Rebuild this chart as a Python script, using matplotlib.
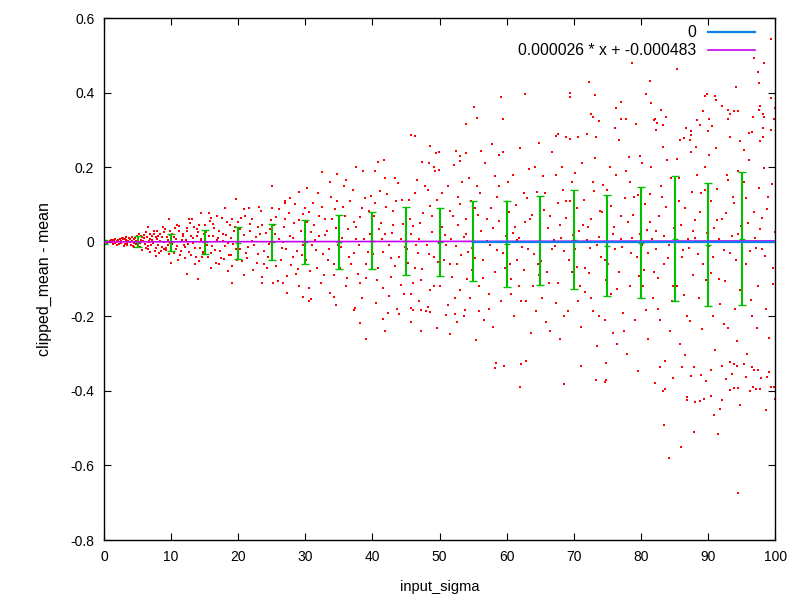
import matplotlib
matplotlib.use("Agg")
import matplotlib.pyplot as plt

plt.rcParams['font.family'] = ['Liberation Sans', 'DejaVu Sans']
plt.rcParams['axes.unicode_minus'] = False

# scatter of clipped_mean - mean
cloud_left = [
    (0.3, 0.001), (0.6, -0.002), (0.9, 0.003), (1.2, -0.001), (1.4, 0.004), (1.7, -0.004),
    (1.9, 0.002), (2.2, -0.005), (2.4, 0.006), (2.6, -0.003), (2.9, 0.008), (3.1, -0.007),
    (3.3, 0.004), (3.5, -0.009), (3.7, 0.010), (3.9, -0.002), (4.1, 0.012), (4.3, -0.011),
    (4.5, 0.006), (4.7, -0.006), (4.9, 0.014), (0.8, 0.000), (1.5, 0.001), (2.0, -0.008),
    (2.8, 0.011), (3.6, 0.002), (4.4, -0.014), (4.8, 0.003), (1.1, 0.005), (3.0, -0.012),
    (5.1, 0.010), (5.3, -0.015), (5.5, 0.004), (5.7, -0.022), (5.9, 0.018), (6.1, -0.006),
    (6.3, 0.025), (6.5, -0.012), (6.7, 0.002), (6.9, -0.028), (7.1, 0.015), (7.3, -0.003),
    (7.5, 0.030), (7.7, -0.018), (7.9, 0.008), (8.1, -0.010), (8.3, 0.022), (8.5, -0.025),
    (8.7, 0.012), (8.9, -0.001), (9.1, 0.035), (9.3, -0.016), (9.5, 0.005), (9.7, -0.032),
    (9.9, 0.019), (5.6, 0.013), (6.6, -0.019), (7.4, 0.021), (8.2, -0.030), (9.0, 0.027),
    (9.6, -0.008), (8.8, 0.040), (7.8, -0.038), (6.0, 0.009),
    (10.1, 0.020), (10.4, -0.031), (10.7, 0.007), (10.9, -0.012), (11.2, 0.042), (11.5, -0.024),
    (11.7, 0.015), (12.0, -0.045), (12.3, 0.028), (12.5, -0.005), (12.8, 0.050), (13.0, -0.036),
    (13.3, 0.011), (13.6, -0.018), (13.8, 0.035), (14.1, -0.052), (14.4, 0.003), (14.7, -0.028),
    (14.9, 0.022), (10.6, 0.038), (11.9, -0.009), (12.6, 0.061), (13.5, -0.060), (14.2, 0.045),
    (11.0, -0.048), (13.9, 0.016), (12.2, 0.004), (14.6, -0.040),
    (15.2, 0.025), (15.5, -0.040), (15.8, 0.055), (16.1, -0.012), (16.4, 0.036), (16.7, -0.058),
    (17.0, 0.009), (17.3, -0.025), (17.6, 0.064), (17.9, -0.047), (18.2, 0.018), (18.5, -0.004),
    (18.8, 0.044), (19.1, -0.066), (19.4, 0.030), (19.7, -0.020), (15.9, -0.070), (16.9, 0.070),
    (17.8, 0.002), (18.9, -0.035), (19.9, 0.052), (16.3, 0.015), (18.4, -0.078),
    (20.2, 0.035), (20.6, -0.052), (21.0, 0.070), (21.4, -0.015), (21.8, 0.048), (22.2, -0.075),
    (22.6, 0.012), (23.0, -0.034), (23.4, 0.082), (23.8, -0.060), (24.2, 0.024), (24.6, -0.006),
    (24.9, 0.058), (20.8, -0.088), (21.6, 0.090), (22.9, 0.040), (23.6, -0.095), (24.4, -0.040),
    (22.0, 0.003), (20.4, 0.064), (21.2, -0.030),
]

cloud_mid = [
    (25.3, 0.045), (25.7, -0.066), (26.1, 0.088), (26.5, -0.018), (26.9, 0.060), (27.3, -0.092),
    (27.7, 0.015), (28.1, -0.042), (28.5, 0.100), (28.9, -0.074), (29.3, 0.030), (29.7, -0.008),
    (25.9, -0.105), (27.0, 0.110), (28.3, 0.050), (29.0, -0.118), (29.6, 0.075), (26.7, 0.000),
    (28.7, -0.026), (25.5, 0.020),
    (30.2, 0.052), (30.7, -0.078), (31.1, 0.104), (31.6, -0.022), (32.0, 0.070), (32.4, -0.110),
    (32.9, 0.018), (33.3, -0.050), (33.8, 0.120), (34.2, -0.088), (34.6, 0.036), (34.9, -0.010),
    (30.5, -0.125), (31.9, 0.130), (33.0, 0.062), (33.6, -0.138), (34.4, 0.088), (31.4, 0.004),
    (32.7, -0.032), (30.9, 0.026),
    (35.3, -0.015), (35.6, 0.094), (36.0, -0.120), (36.3, 0.034), (36.8, -0.060), (37.1, 0.138),
    (37.5, 0.006), (37.8, -0.086), (38.2, 0.066), (38.5, -0.150), (38.9, 0.118), (39.3, -0.028),
    (39.7, 0.020), (35.8, 0.150), (36.5, -0.040), (37.3, 0.052), (38.0, -0.010), (39.0, -0.098),
    (39.5, 0.082), (35.1, -0.070),
    (40.2, 0.068), (40.7, -0.102), (41.1, 0.136), (41.6, -0.028), (42.0, 0.092), (42.4, -0.145),
    (42.9, 0.024), (43.3, -0.066), (43.8, 0.158), (44.2, -0.115), (44.6, 0.048), (44.9, -0.014),
    (40.5, -0.165), (41.9, 0.170), (43.0, 0.082), (43.6, -0.180), (44.4, 0.112), (41.4, 0.006),
    (42.7, -0.043), (40.9, 0.034),
    (45.1, -0.020), (45.4, 0.112), (45.8, -0.140), (46.0, 0.041), (46.3, -0.071), (46.7, 0.166),
    (46.9, 0.008), (47.2, -0.102), (47.6, 0.078), (47.9, -0.185), (48.2, 0.140), (48.4, -0.034),
    (48.8, 0.025), (49.1, -0.118), (49.3, 0.190), (49.7, -0.055), (45.6, 0.060), (47.0, -0.160),
    (48.6, 0.095), (49.9, -0.004), (46.5, -0.010),
    (50.3, 0.130), (50.6, -0.050), (50.8, 0.018), (51.2, -0.170), (51.5, 0.082), (51.9, -0.095),
    (52.1, 0.205), (52.4, -0.012), (52.8, 0.045), (53.1, -0.130), (53.4, 0.160), (53.7, -0.200),
    (54.0, 0.060), (54.3, -0.028), (54.7, 0.110), (54.9, -0.075), (50.1, -0.120), (51.7, 0.006),
    (53.0, 0.100), (54.5, -0.150), (52.6, -0.060), (53.9, 0.022),
    (55.2, -0.045), (55.5, 0.150), (55.9, -0.185), (56.2, 0.030), (56.4, -0.098), (56.8, 0.210),
    (57.1, 0.002), (57.3, -0.140), (57.7, 0.090), (58.0, -0.230), (58.3, 0.175), (58.6, -0.022),
    (58.9, 0.055), (59.2, -0.160), (59.5, 0.240), (59.8, -0.070), (55.7, 0.072), (57.5, -0.010),
    (58.5, 0.120), (59.9, 0.015), (56.6, -0.210), (57.9, 0.038),
]

cloud_right = [
    (60.2, 0.160), (60.5, -0.060), (60.9, 0.024), (61.1, -0.200), (61.4, 0.098), (61.8, -0.118),
    (62.0, 0.250), (62.3, -0.015), (62.7, 0.052), (62.9, -0.160), (63.3, 0.195), (63.6, -0.245),
    (63.8, 0.072), (64.1, -0.034), (64.5, 0.132), (64.8, -0.090), (60.7, -0.140), (61.6, 0.004),
    (63.0, 0.118), (64.3, -0.185), (62.5, -0.075), (64.9, 0.030), (61.3, 0.040),
    (65.1, -0.052), (65.4, 0.175), (65.8, -0.215), (66.1, 0.036), (66.3, -0.112), (66.7, 0.240),
    (67.0, 0.004), (67.4, -0.165), (67.6, 0.104), (67.9, -0.262), (68.2, 0.200), (68.5, -0.026),
    (68.8, 0.064), (69.1, -0.185), (69.4, 0.275), (69.7, -0.080), (65.6, 0.085), (67.2, -0.012),
    (68.4, 0.140), (69.9, 0.018), (66.5, -0.240), (68.0, 0.045), (69.5, 0.110),
    (70.2, 0.185), (70.5, -0.068), (70.8, 0.028), (71.1, -0.230), (71.5, 0.112), (71.7, -0.135),
    (72.0, 0.290), (72.4, -0.018), (72.6, 0.060), (72.9, -0.185), (73.2, 0.225), (73.5, -0.280),
    (73.9, 0.082), (74.1, -0.040), (74.4, 0.152), (74.8, -0.102), (70.6, -0.160), (71.9, 0.005),
    (73.0, 0.135), (74.6, -0.210), (72.2, -0.085), (74.9, 0.034), (71.3, 0.046), (73.7, 0.012),
    (75.1, -0.060), (75.4, 0.200), (75.8, -0.245), (76.0, 0.040), (76.4, -0.128), (76.7, 0.272),
    (77.0, 0.006), (77.3, -0.190), (77.6, 0.118), (77.9, -0.300), (78.2, 0.228), (78.5, -0.030),
    (78.8, 0.072), (79.1, -0.210), (79.3, 0.315), (79.7, -0.092), (75.6, 0.096), (77.2, -0.014),
    (78.4, 0.160), (79.9, 0.020), (76.5, -0.275), (78.0, 0.052), (79.5, 0.125), (76.2, -0.020),
    (80.2, 0.210), (80.5, -0.076), (80.9, 0.032), (81.1, -0.262), (81.4, 0.128), (81.8, -0.152),
    (82.1, 0.330), (82.3, -0.020), (82.7, 0.068), (82.9, -0.210), (83.3, 0.255), (83.6, -0.320),
    (83.8, 0.094), (84.1, -0.045), (84.5, 0.172), (84.8, -0.118), (80.7, -0.182), (81.6, 0.006),
    (83.0, 0.150), (84.3, -0.240), (82.5, -0.096), (84.9, 0.038), (81.3, 0.052), (83.5, 0.014),
    (80.1, -0.010),
    (85.1, -0.068), (85.4, 0.222), (85.8, -0.275), (86.0, 0.046), (86.4, -0.142), (86.7, 0.305),
    (87.0, 0.008), (87.3, -0.212), (87.6, 0.132), (87.9, -0.335), (88.2, 0.255), (88.5, -0.034),
    (88.8, 0.080), (89.1, -0.235), (89.3, 0.350), (89.7, -0.104), (85.6, 0.108), (87.2, -0.016),
    (88.4, 0.180), (89.9, 0.024), (86.5, -0.305), (88.0, 0.058), (89.5, 0.140), (86.2, -0.022),
    (87.8, 0.030),
    (90.2, 0.232), (90.5, -0.084), (90.9, 0.036), (91.1, -0.290), (91.4, 0.142), (91.8, -0.168),
    (92.1, 0.365), (92.3, -0.022), (92.7, 0.076), (92.9, -0.232), (93.3, 0.282), (93.6, -0.355),
    (93.8, 0.104), (94.1, -0.050), (94.5, 0.190), (94.8, -0.130), (90.7, -0.200), (91.6, 0.008),
    (93.0, 0.165), (94.3, -0.265), (92.5, -0.106), (94.9, 0.042), (91.3, 0.058), (93.5, 0.016),
    (90.1, -0.012),
    (95.1, -0.074), (95.4, 0.245), (95.8, -0.300), (96.0, 0.050), (96.4, -0.156), (96.7, 0.335),
    (97.0, 0.010), (97.3, -0.232), (97.6, 0.145), (97.9, -0.365), (98.2, 0.280), (98.5, -0.038),
    (98.8, 0.088), (99.1, -0.258), (99.3, 0.385), (99.7, -0.114), (95.6, 0.118), (97.2, -0.018),
    (98.4, 0.198), (99.9, 0.026), (96.5, -0.335), (98.0, 0.064), (99.5, 0.155), (96.2, -0.024),
    (97.8, 0.034),
]

# denser inner band of the cloud
cloud_core = [
    (0.5, -0.003), (1.0, 0.002), (1.3, -0.006), (1.6, 0.006), (1.8, -0.002), (2.1, 0.004),
    (2.3, -0.007), (2.5, 0.001), (2.7, 0.009), (3.2, 0.006), (3.4, -0.004), (3.8, 0.008),
    (4.0, -0.010), (4.2, 0.001), (4.6, 0.010), (5.0, -0.008), (5.2, 0.020), (5.4, -0.004),
    (5.8, 0.002), (6.2, -0.016), (6.4, 0.012), (6.8, 0.020), (7.0, -0.010), (7.2, 0.004),
    (7.6, -0.024), (8.0, 0.016), (8.4, 0.002), (8.6, -0.014), (9.2, -0.022), (9.4, 0.012),
    (9.8, -0.004), (5.5, 0.016), (6.7, -0.002), (7.9, 0.028), (8.9, -0.020), (9.9, 0.030),
    (3.3, 0.012), (4.5, -0.003), (6.9, 0.007), (7.7, 0.013),
    (10.2, -0.006), (10.5, 0.012), (10.8, -0.020), (11.1, 0.028), (11.3, -0.036), (11.6, 0.004),
    (11.8, 0.022), (12.1, -0.014), (12.4, 0.036), (12.7, -0.028), (12.9, 0.014), (13.2, -0.004),
    (13.4, 0.040), (13.7, -0.042), (14.0, 0.026), (14.3, -0.016), (14.5, 0.008), (14.8, -0.034),
    (15.0, 0.044), (15.3, -0.008), (15.6, 0.016), (15.9, -0.030), (16.2, 0.048), (16.5, -0.022),
    (16.8, 0.004), (17.1, 0.030), (17.4, -0.044), (17.7, 0.020), (18.0, -0.012), (18.3, 0.052),
    (18.6, -0.036), (18.9, 0.010), (19.2, -0.006), (19.5, 0.040), (19.8, -0.050), (10.9, 0.046),
    (13.1, 0.060), (16.0, 0.064), (17.2, -0.060), (19.0, 0.060),
    (20.3, -0.020), (20.9, 0.018), (21.3, -0.045), (21.7, 0.028), (22.1, 0.060), (22.4, -0.010),
    (22.8, -0.058), (23.2, 0.020), (23.5, 0.046), (23.9, -0.024), (24.3, -0.070), (24.7, 0.034),
    (25.1, -0.030), (25.6, 0.066), (26.0, 0.008), (26.3, -0.050), (26.8, 0.040), (27.1, -0.020),
    (27.5, 0.076), (27.9, -0.062), (28.2, 0.010), (28.6, -0.086), (29.1, 0.058), (29.5, -0.036),
    (29.9, 0.090), (30.1, -0.048), (30.6, 0.080), (31.0, -0.010), (31.3, 0.044), (31.7, -0.070),
    (32.1, 0.016), (32.5, 0.094), (32.8, -0.090), (33.2, 0.030), (33.5, -0.020), (33.9, 0.060),
    (34.3, -0.060), (34.7, 0.108), (35.0, -0.040), (35.4, 0.010), (35.9, 0.070), (36.2, -0.096),
    (36.7, 0.110), (37.2, -0.030), (37.6, 0.040), (38.1, -0.112), (38.4, 0.090), (38.7, 0.006),
    (39.1, -0.060), (39.8, 0.122),
    (40.1, -0.032), (40.4, 0.104), (40.8, -0.070), (41.2, 0.050), (41.5, -0.124), (41.8, 0.020),
    (42.2, 0.128), (42.5, -0.010), (42.8, -0.094), (43.1, 0.046), (43.5, 0.110), (43.9, -0.040),
    (44.3, 0.006), (44.7, -0.140), (45.0, 0.088), (45.3, -0.056), (45.7, 0.020), (46.1, -0.110),
    (46.4, 0.130), (46.8, -0.030), (47.1, 0.050), (47.4, -0.074), (47.8, 0.150), (48.1, -0.008),
    (48.5, -0.130), (48.9, 0.070), (49.2, -0.040), (49.6, 0.112), (50.0, -0.090), (50.4, 0.040),
    (50.9, -0.010), (51.3, 0.150), (51.6, -0.060), (52.0, 0.070), (52.3, -0.150), (52.7, 0.120),
    (53.2, -0.036), (53.6, 0.012), (54.1, -0.100), (54.4, 0.170), (54.8, -0.016), (55.3, 0.090),
    (55.8, -0.120), (56.0, 0.130), (56.5, -0.050), (57.0, 0.060), (57.4, -0.180), (58.2, -0.080),
    (58.8, 0.150), (59.4, -0.030),
    (60.3, 0.080), (60.6, -0.100), (61.0, 0.180), (61.5, -0.050), (61.9, 0.010), (62.2, -0.160),
    (62.6, 0.130), (63.1, -0.020), (63.4, 0.060), (63.9, -0.120), (64.2, 0.200), (64.6, -0.060),
    (65.0, 0.020), (65.3, -0.150), (65.7, 0.130), (66.0, -0.080), (66.4, 0.070), (66.8, -0.020),
    (67.3, 0.180), (67.7, -0.110), (68.1, 0.010), (68.6, -0.200), (68.9, 0.110), (69.3, -0.050),
    (69.8, 0.160), (70.1, -0.020), (70.4, 0.090), (70.9, -0.120), (71.2, 0.210), (71.6, -0.070),
    (72.1, 0.040), (72.5, -0.150), (72.8, 0.160), (73.4, -0.010), (73.8, -0.200), (74.2, 0.080),
    (74.7, -0.050), (75.0, 0.140), (75.5, -0.140), (75.9, 0.020), (76.3, 0.180), (76.8, -0.080),
    (77.1, 0.070), (77.5, -0.240), (77.8, 0.190), (78.3, -0.120), (78.7, 0.010), (79.0, 0.120),
    (79.4, -0.040), (79.8, 0.230),
    (80.3, -0.120), (80.6, 0.100), (81.0, -0.030), (81.5, 0.200), (81.9, -0.080), (82.2, 0.030),
    (82.6, -0.180), (83.1, 0.120), (83.4, -0.060), (83.9, 0.220), (84.2, -0.010), (84.6, -0.160),
    (85.0, 0.060), (85.3, -0.120), (85.7, 0.170), (86.1, -0.040), (86.6, 0.090), (86.9, -0.200),
    (87.4, 0.240), (87.7, -0.090), (88.1, 0.010), (88.6, -0.150), (88.9, 0.130), (89.2, -0.060),
    (89.6, 0.200), (90.0, -0.130), (90.4, 0.110), (90.8, -0.040), (91.2, 0.250), (91.7, -0.100),
    (92.0, 0.060), (92.4, -0.220), (92.8, 0.180), (93.2, -0.030), (93.7, 0.120), (94.0, -0.180),
    (94.4, 0.020), (94.7, 0.270), (95.0, -0.110), (95.3, 0.160), (95.7, -0.060), (96.1, 0.220),
    (96.6, -0.200), (96.9, 0.080), (97.4, -0.120), (97.7, 0.270), (98.1, -0.020), (98.6, -0.180),
    (99.0, 0.120), (99.6, -0.070),
]

top_outliers = [
    (99.4, 0.545), (98.4, 0.480), (96.9, 0.494), (85.4, 0.462), (78.7, 0.478), (81.3, 0.430),
    (72.3, 0.428), (97.5, 0.454), (97.6, 0.427), (94.2, 0.414), (89.8, 0.396), (89.6, 0.392),
    (91.1, 0.390), (91.2, 0.380), (80.8, 0.396), (81.5, 0.372), (77.0, 0.375), (73.1, 0.393),
    (69.4, 0.400), (69.5, 0.389), (62.7, 0.395), (59.1, 0.388), (55.1, 0.360), (55.6, 0.331),
    (53.9, 0.315), (59.5, 0.328), (72.6, 0.342), (72.9, 0.335), (73.8, 0.325), (76.3, 0.358),
    (77.0, 0.329), (77.7, 0.328), (76.1, 0.304), (67.3, 0.284), (67.7, 0.288), (68.8, 0.280),
    (73.3, 0.282), (70.6, 0.280), (82.0, 0.326), (82.4, 0.318), (83.0, 0.352), (83.8, 0.335),
    (87.4, 0.298), (87.4, 0.285), (88.4, 0.326), (88.8, 0.313), (90.2, 0.328), (90.6, 0.311),
    (90.0, 0.297), (92.9, 0.353), (92.9, 0.328), (93.2, 0.342), (93.8, 0.350), (94.4, 0.350),
    (96.1, 0.292), (96.6, 0.293), (97.6, 0.353), (97.8, 0.364), (98.2, 0.343), (98.4, 0.335),
    (99.9, 0.358), (99.8, 0.330), (99.4, 0.300), (98.2, 0.306), (82.2, 0.300), (83.3, 0.313),
    (85.8, 0.273), (86.4, 0.279), (87.3, 0.273), (58.9, 0.232), (54.0, 0.239), (57.8, 0.263),
    (56.1, 0.242), (64.8, 0.264), (45.7, 0.286), (46.3, 0.283), (48.6, 0.257), (49.9, 0.241),
    (49.4, 0.239), (52.5, 0.243), (53.1, 0.231), (53.0, 0.216), (41.7, 0.218), (40.8, 0.214),
    (37.5, 0.200), (38.6, 0.190), (40.4, 0.190), (32.5, 0.186), (34.7, 0.182), (36.1, 0.165),
    (43.4, 0.171), (47.4, 0.214), (48.4, 0.210), (49.1, 0.201), (49.9, 0.192), (25.0, 0.149),
    (29.1, 0.132), (30.3, 0.143), (33.6, 0.159), (19.6, 0.114), (18.1, 0.090), (20.8, 0.087),
    (15.7, 0.076), (14.5, 0.076), (9.7, 0.060), (6.5, 0.040), (23.1, 0.094), (25.1, 0.090),
    (27.7, 0.116), (26.9, 0.103),
]

bottom_outliers = [
    (94.5, -0.675), (84.2, -0.581), (85.9, -0.551), (87.9, -0.511), (91.5, -0.516), (83.5, -0.492),
    (90.9, -0.466), (98.7, -0.452), (91.8, -0.449), (94.8, -0.439), (99.9, -0.423), (62.0, -0.390),
    (68.6, -0.382), (73.3, -0.372), (74.7, -0.377), (74.8, -0.370), (82.1, -0.380), (84.7, -0.366),
    (83.3, -0.400), (83.6, -0.396), (86.8, -0.416), (86.8, -0.425), (88.1, -0.431), (88.8, -0.427),
    (89.4, -0.423), (90.5, -0.415), (92.1, -0.425), (93.2, -0.398), (93.9, -0.393), (94.5, -0.393),
    (96.3, -0.400), (96.7, -0.390), (97.2, -0.395), (97.8, -0.395), (98.8, -0.362), (99.1, -0.349),
    (99.4, -0.389), (99.8, -0.390), (82.8, -0.336), (79.5, -0.346), (58.4, -0.326), (58.3, -0.340),
    (59.6, -0.334), (62.1, -0.329), (62.9, -0.321), (55.4, -0.264), (71.1, -0.334), (74.8, -0.324),
    (86.1, -0.337), (87.4, -0.361), (88.9, -0.358), (89.7, -0.374), (92.6, -0.369), (95.4, -0.329),
    (95.7, -0.364), (96.8, -0.345), (97.5, -0.345), (93.3, -0.322), (93.9, -0.327), (94.3, -0.333),
    (92.1, -0.334), (90.5, -0.344), (39.0, -0.261), (38.2, -0.219), (41.9, -0.240), (37.2, -0.183),
    (37.4, -0.179), (41.6, -0.206), (42.3, -0.192), (43.9, -0.193), (45.7, -0.214), (47.2, -0.240),
    (49.6, -0.232), (51.5, -0.248), (52.6, -0.216), (52.3, -0.193), (53.8, -0.182), (51.0, -0.197),
    (34.5, -0.170), (34.3, -0.147), (29.6, -0.149), (30.5, -0.159), (30.9, -0.154), (27.2, -0.137),
    (26.6, -0.112), (19.0, -0.110), (14.0, -0.101), (12.3, -0.087), (10.0, -0.058), (23.5, -0.110),
    (25.2, -0.110), (45.8, -0.179), (46.0, -0.183), (47.3, -0.183), (48.3, -0.174), (48.6, -0.188),
]

# binned mean and spread (error bars)
bin_x = [0, 5, 10, 15, 20, 25, 30, 35, 40, 45, 50, 55, 60, 65, 70, 75, 80, 85, 90, 95]
bin_mean = [0.0, 0.0, -0.002, -0.0015, -0.004, -0.0015, -0.002, -0.0015, 0.0025, 0.002,
            -0.0005, 0.002, -0.006, 0.0025, 0.005, -0.011, -0.003, 0.0075, -0.008, 0.0075]
bin_err = [0.005, 0.015, 0.024, 0.0325, 0.043, 0.048, 0.059, 0.0725, 0.0765, 0.09,
           0.0915, 0.108, 0.116, 0.1195, 0.133, 0.135, 0.149, 0.1675, 0.165, 0.1785]

# fitted line and zero line
fit_slope = 0.000026
fit_icept = -0.000483
fit_range = [0, 100]
zero_range = [55, 100]

points = cloud_left + cloud_mid + cloud_right + cloud_core + top_outliers + bottom_outliers
px = [p[0] for p in points]
py = [p[1] for p in points]

fig = plt.figure(figsize=(8, 6), dpi=100)
ax = fig.add_axes([0.13, 0.1, 0.839, 0.87])

dots, = ax.plot(px, py, 's', color='#ff0000', ms=1.6, mew=0, zorder=1)
dots.set_antialiased(False)

ax.errorbar(bin_x, bin_mean, yerr=bin_err, fmt='_', color='#00c000', ms=5, mew=1,
            elinewidth=1.5, capsize=3, capthick=1.5, zorder=2)

ax.plot(zero_range, [0, 0], color='#0c80e8', lw=1.6, label='0', zorder=4)
fit_y = [fit_slope * v + fit_icept for v in fit_range]
ax.plot(fit_range, fit_y, color='#c800f0', lw=1.2,
        label='0.000026 * x + -0.000483', zorder=3)

ax.set_xlim(0, 100)
ax.set_ylim(-0.8, 0.6)
ax.set_xticks(range(0, 101, 10))
ax.set_yticks([-0.8, -0.6, -0.4, -0.2, 0, 0.2, 0.4, 0.6])
ax.set_yticklabels(['-0.8', '-0.6', '-0.4', '-0.2', '0', '0.2', '0.4', '0.6'])
ax.tick_params(direction='in', length=5, width=0.8, top=True, right=True,
               labelsize=10, pad=7)
for s in ax.spines.values():
    s.set_linewidth(1)

ax.set_xlabel('input_sigma', fontsize=10.5, labelpad=12)
ax.set_ylabel('clipped_mean - mean', fontsize=11.5, labelpad=13)

leg = ax.legend(loc='upper right', bbox_to_anchor=(0.98, 0.998), borderaxespad=0,
                frameon=False, markerfirst=False, fontsize=11.3,
                handlelength=3.0, handletextpad=0.75, labelspacing=0.2)

fig.savefig('out.png', dpi=100)
